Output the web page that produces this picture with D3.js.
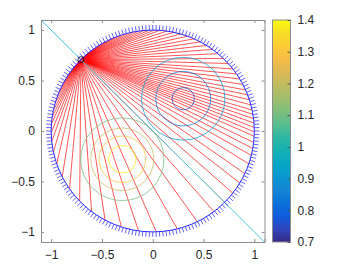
<!DOCTYPE html>
<html>
<head>
<meta charset="utf-8">
<script src="https://cdn.jsdelivr.net/npm/d3@7"></script>
<style>
body{margin:0;background:#fff}
text{font-family:"Liberation Sans",Arial,Helvetica,sans-serif;fill:#262626}
</style>
</head>
<body>
<svg width="337" height="272"></svg>
<script>
// ---- data ----
const xTicks = [-1, -0.5, 0, 0.5, 1];
const yTicks = [-1, -0.5, 0, 0.5, 1];
const cbTicks = [0.7, 0.8, 0.9, 1, 1.1, 1.2, 1.3, 1.4];
const source = [-0.707, 0.707];
// angle (deg) where each red ray meets the unit circle
const rayEnds = [133.5, 132, 130.5, 129, 127, 125, 122.5, 120, 117.5, 115, 112.5, 110,
  107, 104, 101, 98, 95, 92, 89,
  86, 82, 78, 74, 70, 66, 62, 58, 54, 50, 46, 42, 38, 34.5, 31, 27.5, 24, 21, 18,
  15, 12, 9.5, 7, 4.5, 2, -0.5, -3, -6.5, -10, -14, -19, -25, -31, -38, -45, -53,
  -64, -76, -88,
  -98, -108, -118, -127, -136, -145, -153, -161, -168, -174, -179,
  176, 172, 168, 164, 160, 157, 154, 151, 148, 145.5, 143, 141, 139.5, 138, 136.5];
const sensorCount = 192;
const dipCenter = [0.3, 0.32];
const dipRadius = [0.11, 0.27, 0.41];
const dipLevels = [0.76, 0.84, 0.91];
const bumpCenter = [-0.3, -0.28];
const bumpRadius = [0.136, 0.23, 0.31, 0.41];
const bumpLevels = [1.38, 1.3, 1.2, 1.1];
const diagonal = [[-1.1, 1.1], [1.1, -1.1]];

// parula colour map stops
const parula = ["#352a87","#3145bc","#0f5cdd","#0b72d8","#1484d4","#0998d1","#06a7c6",
  "#15b1b4","#2eb7a4","#57bd8f","#7ebf7c","#a0bd6e","#bfbc60","#ddb855","#f6bb47",
  "#fccb35","#f6dd27","#f9fb0e"];
const color = d3.scaleLinear()
  .domain(d3.range(parula.length).map(i => 0.7 + 0.7 * i / (parula.length - 1)))
  .range(parula);

var svg = d3.select("svg");
var x = d3.scaleLinear().domain([-1.1, 1.1]).range([41, 264.5]);
var y = d3.scaleLinear().domain([-1.1, 1.1]).range([242, 20]);

var plot = svg.append("g");
plot.append("clipPath").attr("id", "clip")
  .append("rect").attr("x", 41).attr("y", 20).attr("width", 223.5).attr("height", 222);
var g = plot.append("g").attr("clip-path", "url(#clip)");

// rays
g.append("g").selectAll("line")
  .data(rayEnds)
  .enter().append("line")
  .attr("x1", x(source[0])).attr("y1", y(source[1]))
  .attr("x2", d => x(Math.cos(d * Math.PI / 180)))
  .attr("y2", d => y(Math.sin(d * Math.PI / 180)))
  .attr("stroke", "#ff0000").attr("stroke-width", 0.85).attr("stroke-opacity", 0.78);

// contours
function rings(c, radii, levels) {
  g.append("g").selectAll("ellipse")
    .data(radii)
    .enter().append("ellipse")
    .attr("cx", x(c[0])).attr("cy", y(c[1]))
    .attr("rx", d => x(d) - x(0)).attr("ry", d => y(0) - y(d))
    .attr("fill", "none")
    .attr("stroke", (d, i) => color(levels[i]))
    .attr("stroke-width", 1).attr("stroke-opacity", 0.75);
}
rings(dipCenter, dipRadius, dipLevels);
rings(bumpCenter, bumpRadius, bumpLevels);

// diagonal
g.append("line")
  .attr("x1", x(diagonal[0][0])).attr("y1", y(diagonal[0][1]))
  .attr("x2", x(diagonal[1][0])).attr("y2", y(diagonal[1][1]))
  .attr("stroke", "#4cc6d6").attr("stroke-width", 1);

// sensors on the circle
var sensors = d3.range(sensorCount).map(i => i * 2 * Math.PI / sensorCount);
g.append("g").selectAll("line")
  .data(sensors)
  .enter().append("line")
  .attr("x1", d => x(Math.cos(d))).attr("y1", d => y(Math.sin(d)))
  .attr("x2", d => x(1.05 * Math.cos(d))).attr("y2", d => y(1.05 * Math.sin(d)))
  .attr("stroke", "#2424ff").attr("stroke-width", 1).attr("stroke-opacity", 0.7);
g.append("ellipse")
  .attr("cx", x(0)).attr("cy", y(0))
  .attr("rx", x(1) - x(0)).attr("ry", y(0) - y(1))
  .attr("fill", "none").attr("stroke", "#2a2aff").attr("stroke-width", 1);

// source marker
g.append("circle")
  .attr("cx", x(source[0])).attr("cy", y(source[1])).attr("r", 3)
  .attr("fill", "none").attr("stroke", "#000").attr("stroke-width", 0.8);

// axes (box, ticks inside)
var axisColor = "#8c8c8c";
svg.append("g").attr("transform", "translate(0,242)")
  .call(d3.axisBottom(x).tickValues(xTicks).tickSize(-3).tickPadding(8).tickFormat(d3.format("")))
  .call(a => a.select(".domain").attr("stroke", axisColor));
svg.append("g").attr("transform", "translate(0,20)")
  .call(d3.axisTop(x).tickValues(xTicks).tickSize(-3).tickFormat(""))
  .call(a => a.select(".domain").attr("stroke", axisColor));
svg.append("g").attr("transform", "translate(41,0)")
  .call(d3.axisLeft(y).tickValues(yTicks).tickSize(-3).tickPadding(6).tickFormat(d3.format("")))
  .call(a => a.select(".domain").attr("stroke", axisColor));
svg.append("g").attr("transform", "translate(264.5,0)")
  .call(d3.axisRight(y).tickValues(yTicks).tickSize(-3).tickFormat(""))
  .call(a => a.select(".domain").attr("stroke", axisColor));
svg.selectAll(".tick line").attr("stroke", axisColor);
svg.selectAll(".tick text").attr("font-size", 12).attr("fill", "#262626");
svg.selectAll(".domain").attr("fill", "none");

// colorbar
var cb = d3.scaleLinear().domain([0.7, 1.4]).range([242, 20]);
var grad = svg.append("defs").append("linearGradient").attr("id", "parula")
  .attr("x1", 0).attr("y1", 1).attr("x2", 0).attr("y2", 0);
grad.selectAll("stop").data(parula).enter().append("stop")
  .attr("offset", (d, i) => i / (parula.length - 1)).attr("stop-color", d => d);
svg.append("rect").attr("x", 272.5).attr("y", 20).attr("width", 18).attr("height", 222)
  .attr("fill", "url(#parula)").attr("stroke", axisColor).attr("stroke-width", 1);
svg.append("g").attr("transform", "translate(290.5,0)")
  .call(d3.axisRight(cb).tickValues(cbTicks).tickSize(-3).tickPadding(7).tickFormat(d3.format("")))
  .call(a => a.select(".domain").remove())
  .call(a => a.selectAll(".tick line").attr("stroke", "#555"))
  .call(a => a.selectAll(".tick text").attr("font-size", 12).attr("fill", "#262626"));
</script>
</body>
</html>
